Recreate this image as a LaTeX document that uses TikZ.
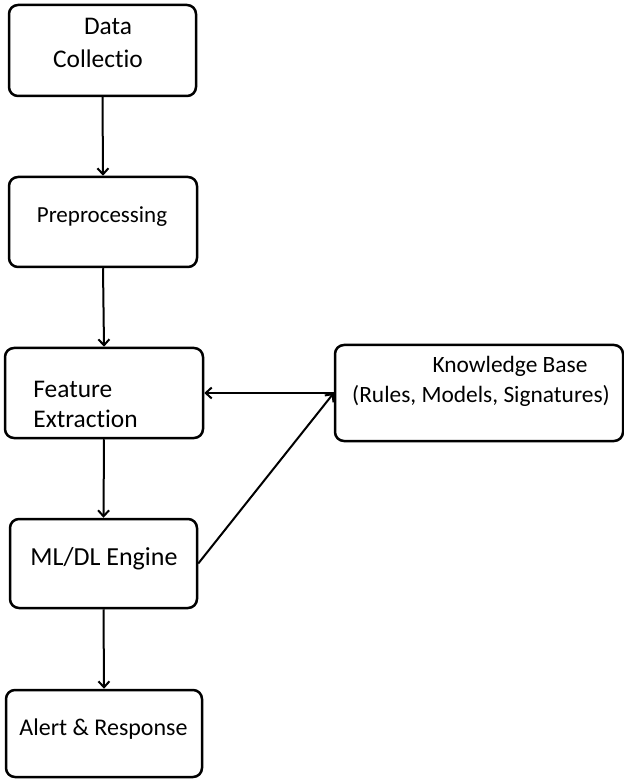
\documentclass[tikz,border=0pt]{standalone}
\usepackage{fontspec}
\setmainfont{Carlito}[Ligatures={NoCommon,NoRare,NoHistoric}]
\usetikzlibrary{arrows.meta,fit}

\tikzset{
  stagebox/.style={draw, line width=1.25pt, rounded corners=4.5pt, inner sep=0pt},
  lbl/.style={anchor=base, inner sep=0pt},
  lblw/.style={anchor=base west, inner sep=0pt},
  flow/.style={line width=1pt, -{Straight Barb[length=3pt,width=5.5pt,line width=1pt]}},
}

\begin{document}
\begin{tikzpicture}[x=0.5pt,y=-0.5pt]
  \useasboundingbox (0,0) rectangle (624,779);

  % stages of the pipeline
  \node[stagebox, fit={(9,5) (196,96)}]    (dc) {};
  \node[stagebox, fit={(9,177) (197,267)}] (pp) {};
  \node[stagebox, fit={(5,348) (203,438)}] (fe) {};
  \node[stagebox, fit={(335,345) (623,441)}] (kb) {};
  \node[stagebox, fit={(10,519) (197,608)}] (ml) {};
  \node[stagebox, fit={(6,690) (202,777)}] (ar) {};

  % labels
  \node[lbl, font=\fontsize{12.7}{15}\selectfont] (dcA) at (108,35) {Data};
  \node[lbl, font=\fontsize{12.7}{15}\selectfont] (dcB) at (98,68) {Collectio};
  \node[lbl, font=\fontsize{11.5}{14}\selectfont] (ppA) at (102,223) {Preprocessing};
  \node[lblw, font=\fontsize{12.7}{15}\selectfont] (feA) at (33,397) {Feature};
  \node[lblw, font=\fontsize{12.7}{15}\selectfont] (feB) at (33,427) {Extraction};
  \node[lbl, font=\fontsize{11.7}{14}\selectfont] (kbA) at (510,372) {Knowledge Base};
  \node[lbl, font=\fontsize{11.7}{14}\selectfont] (kbB) at (481,402) {(Rules, Models, Signatures)};
  \node[lbl, font=\fontsize{13}{15}\selectfont] (mlA) at (104,565) {ML/DL Engine};
  \node[lbl, font=\fontsize{12}{14}\selectfont] (arA) at (103.5,735) {Alert \& Response};

  % connectors
  \draw[flow] (dc.south) -- (pp.north);
  \draw[flow] (pp.south) -- (fe.north);
  \draw[flow] (fe.south) -- (ml.north);
  \draw[flow] (ml.south) -- (ar.north);
  \draw[flow] (kb.west) -- (fe.east);
  \draw[flow] (ml.east) -- (kb.west);
\end{tikzpicture}
\end{document}
